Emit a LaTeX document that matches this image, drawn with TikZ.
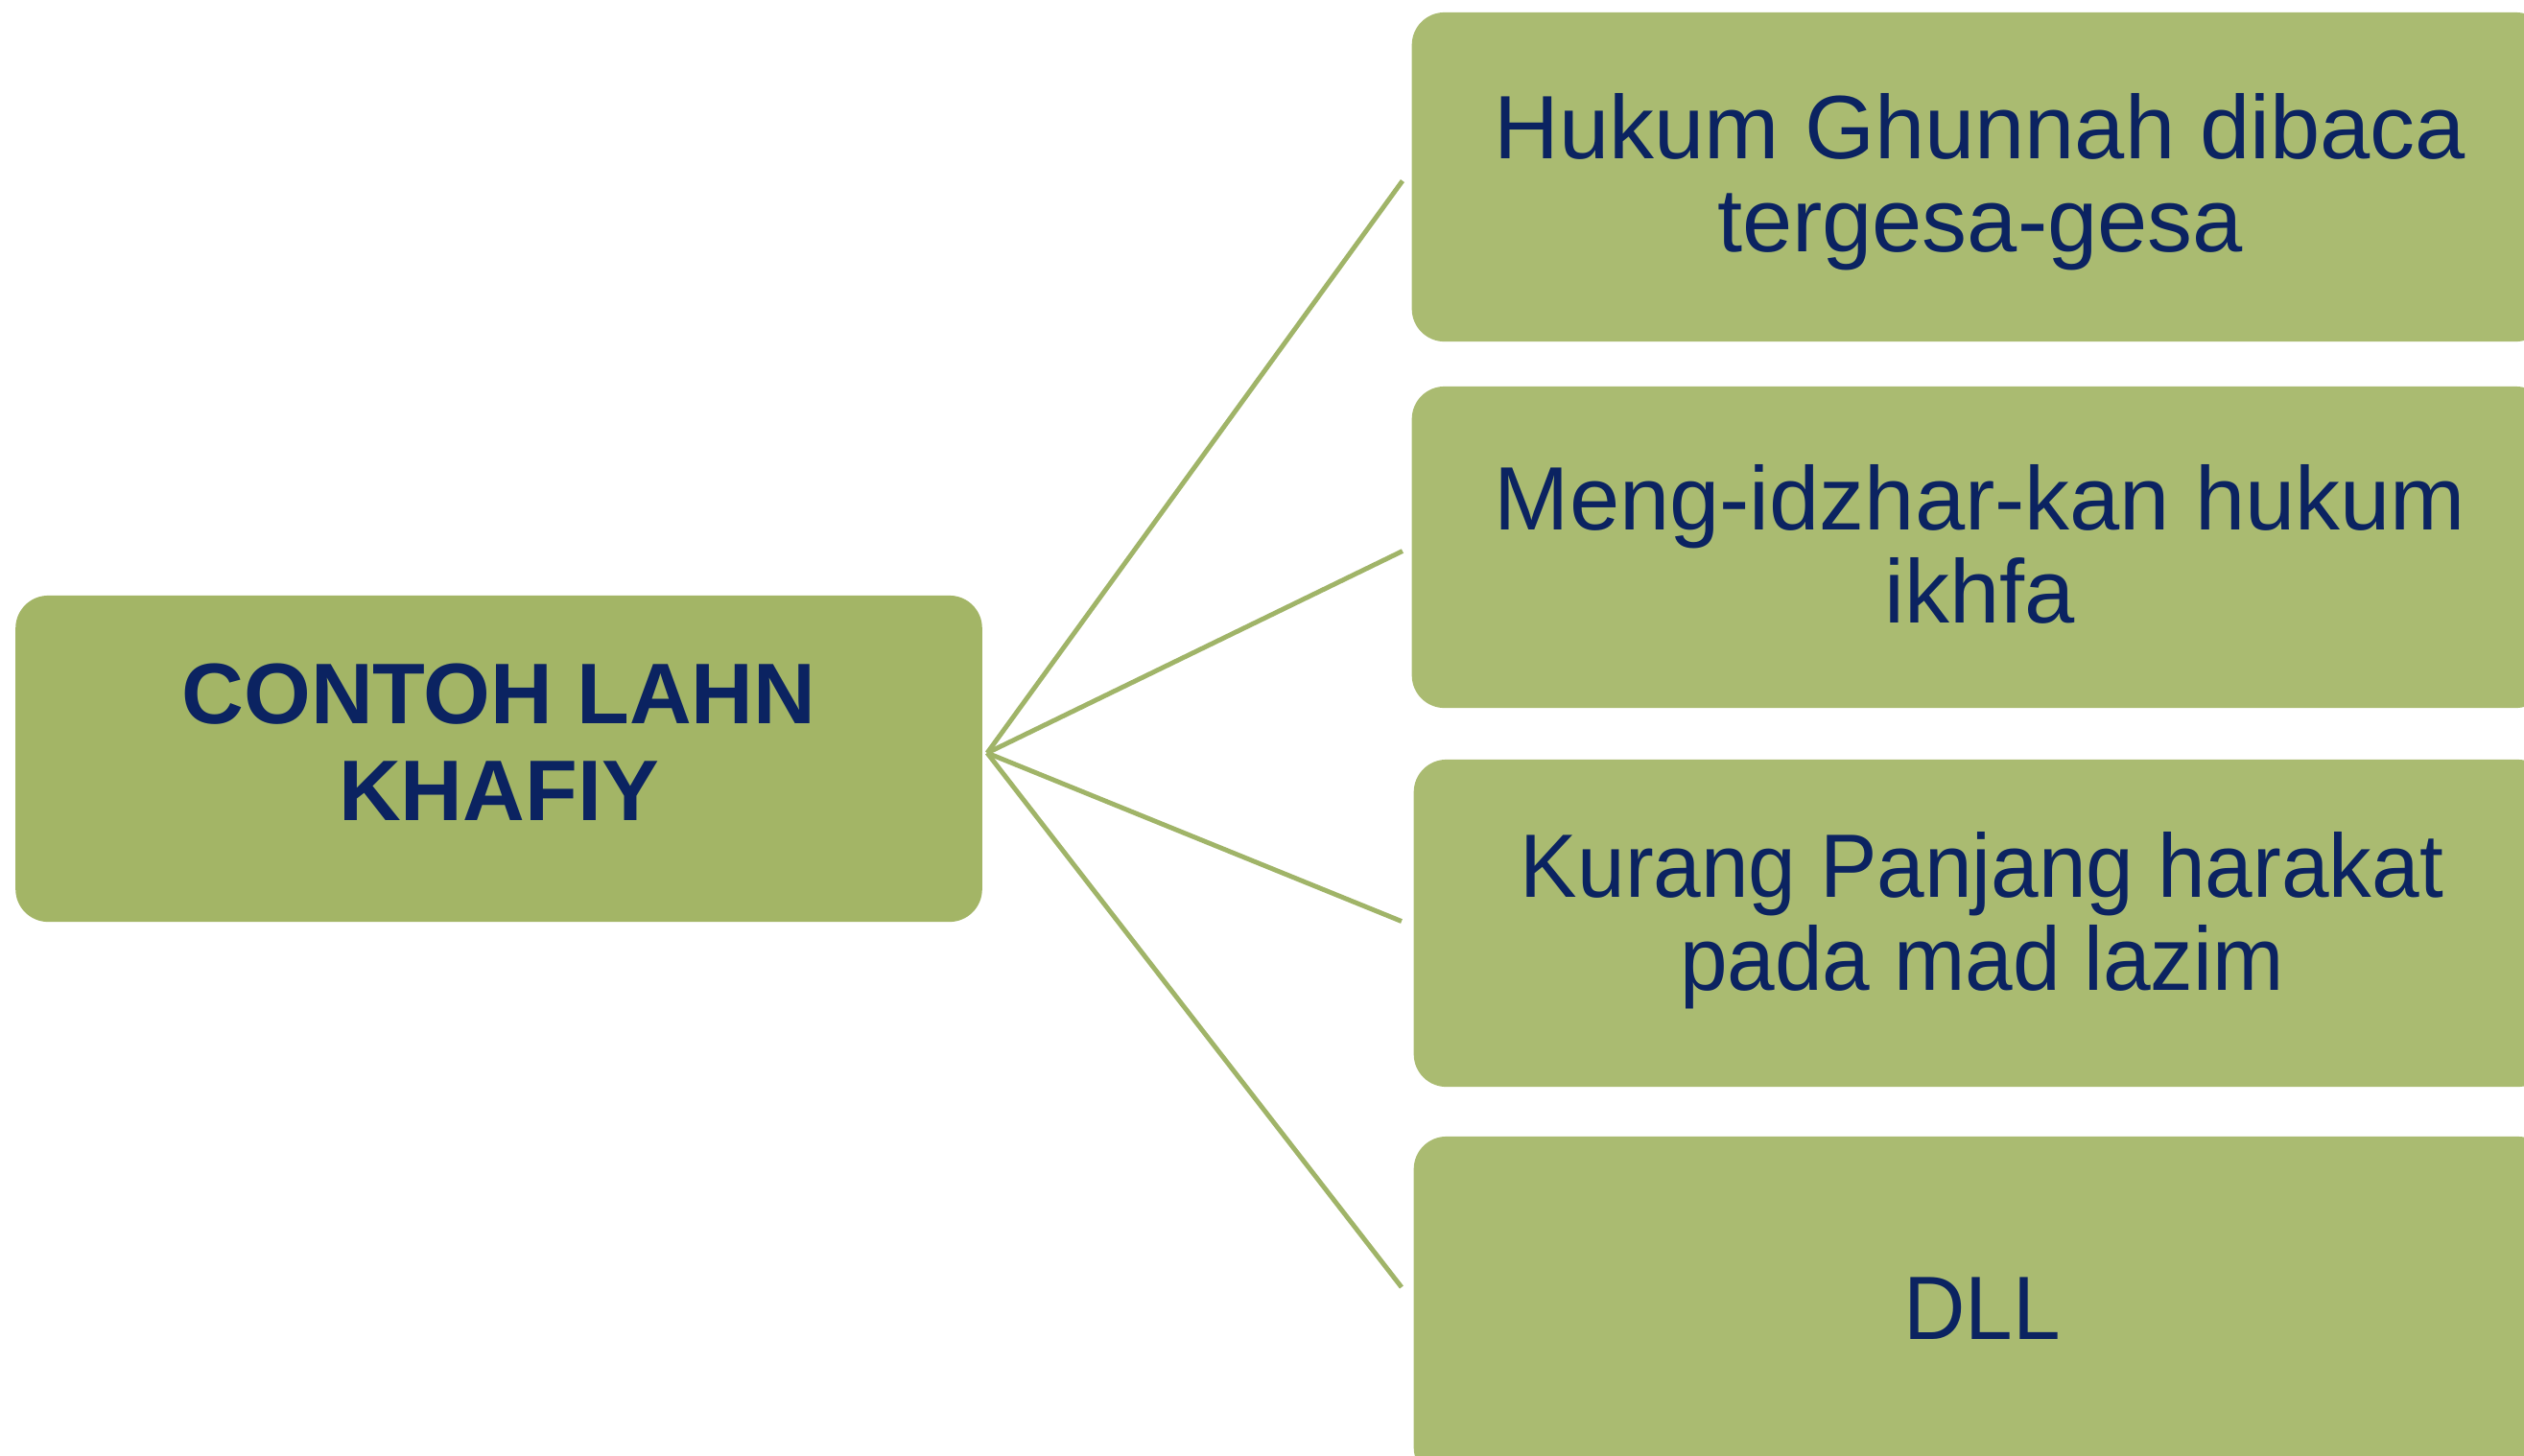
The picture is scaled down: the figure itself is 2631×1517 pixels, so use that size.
\documentclass[tikz,border=0pt]{standalone}
\usepackage{fontspec}
\setmainfont{Liberation Sans}
\newfontfamily\narrowfont[FakeStretch=0.95]{Liberation Sans}
\definecolor{leftfill}{HTML}{A3B566}
\definecolor{rightfill}{HTML}{AABB71}
\definecolor{navytext}{HTML}{0B2361}
\definecolor{linkcol}{HTML}{A0B468}
\begin{document}
\begin{tikzpicture}[x=0.01cm,y=-0.01cm,
  mainbox/.style={rectangle, rounded corners=0.34cm, fill=leftfill, draw=none,
    minimum width=10.07cm, minimum height=3.4cm, inner sep=0pt},
  itembox/.style={rectangle, rounded corners=0.34cm, fill=rightfill, draw=none,
    minimum width=11.84cm, inner sep=0pt},
  maintext/.style={align=center, inner sep=0pt, text=navytext,
    font=\fontsize{25.5}{28.7}\selectfont\bfseries},
  itemtext/.style={align=center, inner sep=0pt, text=navytext,
    font=\fontsize{26.7}{27.6}\selectfont},
  link/.style={draw=linkcol, line width=1.4pt}]
\useasboundingbox (0,0) rectangle (2631,1517);
\fill[white] (0,0) rectangle (2631,1517);
\node[mainbox, label={[maintext, yshift=0.17cm]center:CONTOH LAHN\\KHAFIY}] (L) at (520,791) {};
\node[itembox, minimum height=3.43cm, label={[itemtext, yshift=-0.05cm]center:Hukum Ghunnah dibaca\\tergesa-gesa}] (b1) at (2064,184.5) {};
\node[itembox, minimum height=3.35cm, label={[itemtext, yshift=0.03cm]center:Meng-idzhar-kan hukum\\ikhfa}] (b2) at (2064,570.5) {};
\node[itembox, minimum height=3.41cm, label={[itemtext, font=\fontsize{26.7}{27.6}\narrowfont, yshift=0.03cm]center:Kurang Panjang harakat\\pada mad lazim}] (b3) at (2066,962.5) {};
\node[itembox, minimum height=3.58cm, label={[itemtext, font=\fontsize{26.7}{27.6}\narrowfont]center:DLL}] (b4) at (2066,1364) {};
\coordinate (hub) at (1029,785);
\draw[link] (hub) -- ([xshift=-0.09cm,yshift=-0.04cm]b1.west);
\draw[link] (hub) -- ([xshift=-0.09cm,yshift=-0.04cm]b2.west);
\draw[link] (hub) -- ([xshift=-0.12cm,yshift=0.02cm]b3.west);
\draw[link] (hub) -- ([xshift=-0.12cm,yshift=0.22cm]b4.west);
\end{tikzpicture}
\end{document}
